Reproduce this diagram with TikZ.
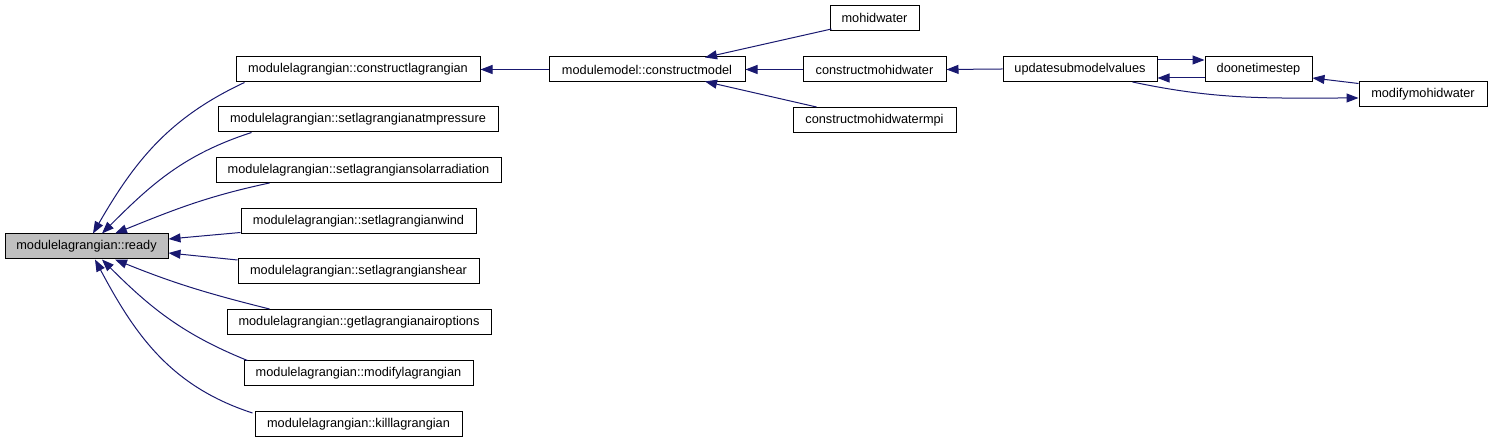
\documentclass[tikz,border=0pt]{standalone}
\usepackage{fontspec}
\setmainfont{Liberation Sans}
\usetikzlibrary{arrows.meta}
\definecolor{edgeblue}{HTML}{191970}
\definecolor{readygray}{HTML}{BFBFBF}
\begin{document}
\begin{tikzpicture}[x=1pt,y=1pt,
  box/.style={draw=black,line width=1pt,fill=white,inner sep=0pt,minimum height=25pt,
    font=\fontsize{12.75}{15}\selectfont},
  edge/.style={draw=edgeblue,line width=1pt,-{Triangle[length=12pt,width=9pt]},color=edgeblue}]
\useasboundingbox (0,0) rectangle (1492,443);
\fill[white] (0,0) rectangle (1492,443);
% nodes
\node[box,fill=readygray,minimum width=163pt] (ready) at (86.5,196.5) {modulelagrangian::ready};
\node[box,minimum width=244pt] (cl) at (358,373.5) {modulelagrangian::constructlagrangian};
\node[box,minimum width=280pt] (atm) at (358,323.5) {modulelagrangian::setlagrangianatmpressure};
\node[box,minimum width=285pt] (solar) at (358.5,273) {modulelagrangian::setlagrangiansolarradiation};
\node[box,minimum width=235pt] (wind) at (358.5,222) {modulelagrangian::setlagrangianwind};
\node[box,minimum width=241pt] (shear) at (358.5,171.5) {modulelagrangian::setlagrangianshear};
\node[box,minimum width=264pt] (air) at (359,121) {modulelagrangian::getlagrangianairoptions};
\node[box,minimum width=229pt] (modl) at (358.5,69.5) {modulelagrangian::modifylagrangian};
\node[box,minimum width=207pt] (kill) at (358.5,19) {modulelagrangian::killlagrangian};
\node[box,minimum width=196pt] (cm) at (647,373.5) {modulemodel::constructmodel};
\node[box,minimum width=89pt] (mw) at (874.5,425) {mohidwater};
\node[box,minimum width=143pt] (cmw) at (874.5,373.5) {constructmohidwater};
\node[box,minimum width=163pt] (mpi) at (874.5,323) {constructmohidwatermpi};
\node[box,minimum width=154pt] (usv) at (1080,374) {updatesubmodelvalues};
\node[box,minimum width=107pt] (dots) at (1258.5,374) {doonetimestep};
\node[box,minimum width=128pt] (mmw) at (1423,348.5) {modifymohidwater};
% edges into ready
\draw[edge] ([xshift=9pt]cl.south west) to[out=205,in=60] ([xshift=6.5pt]ready.north);
\draw[edge] ([xshift=34pt]atm.south west) to[out=198,in=45] ([xshift=15.5pt]ready.north);
\draw[edge] ([xshift=54pt]solar.south west) to[out=192,in=22] ([xshift=28.5pt]ready.north);
\draw[edge] ([yshift=1.5pt]wind.south west) -- ([yshift=7.5pt]ready.east);
\draw[edge] ([yshift=-1.5pt]shear.north west) -- ([yshift=-6.5pt]ready.east);
\draw[edge] ([xshift=43pt]air.north west) to[out=166,in=-22] ([xshift=28.5pt]ready.south);
\draw[edge] ([xshift=4pt]modl.north west) to[out=158,in=-45] ([xshift=15.5pt]ready.south);
\draw[edge] ([xshift=-2pt,yshift=-2pt]kill.north west) to[out=162,in=-62] ([xshift=8.5pt]ready.south);
% model chain
\draw[edge] (cm.west) -- (cl.east);
\draw[edge] ([xshift=2pt,yshift=2pt]mw.south west) -- ([xshift=58pt,yshift=-1pt]cm.north);
\draw[edge] (cmw.west) -- (cm.east);
\draw[edge] ([xshift=24pt]mpi.north west) -- ([xshift=58pt,yshift=1pt]cm.south);
\draw[edge] (usv.west) -- (cmw.east);
\draw[edge] ([yshift=9pt]usv.east) -- ([yshift=9pt]dots.west);
\draw[edge] ([yshift=-9pt]dots.west) -- ([yshift=-9pt]usv.east);
\draw[edge] ([yshift=-2pt]mmw.north west) -- ([yshift=4pt]dots.south east);
\draw[edge] ([xshift=-25pt]usv.south east) to[out=-12,in=180] ([yshift=-3.5pt]mmw.west);
\end{tikzpicture}
\end{document}
